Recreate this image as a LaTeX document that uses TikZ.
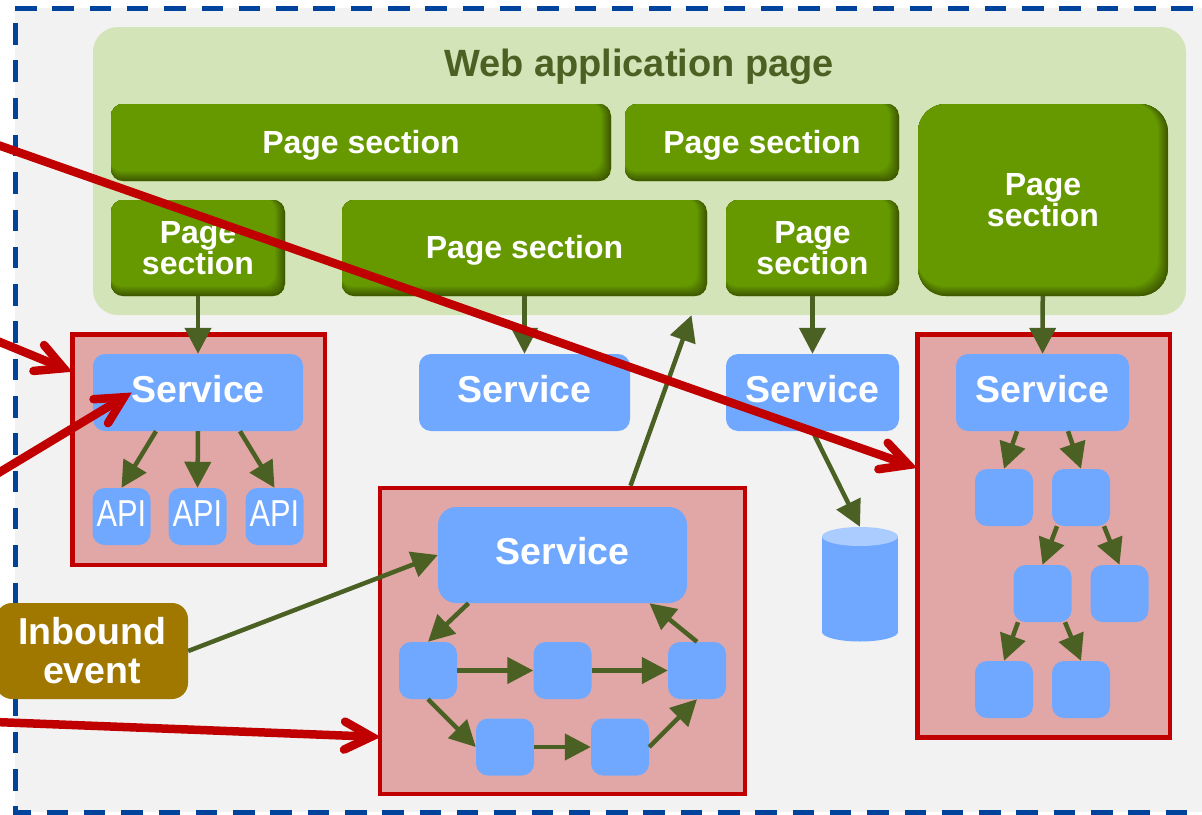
\documentclass[tikz,border=0pt]{standalone}
\usepackage{fontspec}
\setmainfont{Liberation Sans}
\usetikzlibrary{arrows.meta}
\definecolor{backgrey}{HTML}{F2F2F2}
\definecolor{dashblue}{HTML}{00439C}
\definecolor{panelgreen}{HTML}{D3E4B8}
\definecolor{pagegreen}{HTML}{669900}
\definecolor{pageshade}{HTML}{3F5A00}
\definecolor{boxblue}{HTML}{70A8FF}
\definecolor{lidblue}{HTML}{AACCFF}
\definecolor{boxred}{HTML}{C00000}
\definecolor{boxpink}{HTML}{E1A7A7}
\definecolor{arrowgreen}{HTML}{4B6124}
\definecolor{eventbrown}{HTML}{A07800}
\begin{document}
\begin{tikzpicture}[
    x=1pt,
    y=-1pt,
    block/.style={
      rectangle,
      align=center,
      inner sep=0pt,
      rounded corners=12pt,
      text=white,
      font=\bfseries\fontsize{32}{31.5}\selectfont
    },
    page/.style={
      block,
      fill=pagegreen,
      rounded corners=#1,
      path picture={
        \foreach \inset in {0,1,...,10} {
          \pgfmathtruncatemacro\mixval{\inset*10}
          \fill[pagegreen!\mixval!pageshade, rounded corners=#1] ([xshift=-1.5pt, yshift=1.5pt]path picture bounding box.north west) rectangle ([xshift=-\inset pt, yshift=\inset pt]path picture bounding box.south east);
        }
      }
    },
    page/.default=12pt,
    onerow/.style={
      text height=27.5pt,
      text depth=6pt
    },
    service/.style={
      block,
      fill=boxblue,
      text height=27pt,
      text depth=8pt,
      font=\bfseries\fontsize{37.5}{39}\selectfont
    },
    tiny/.style={
      block,
      fill=boxblue,
      minimum width=58,
      minimum height=57
    },
    api/.style={
      tiny,
      text height=27pt,
      text depth=6.6pt,
      font=\fontsize{37.5}{39}\selectfont
    },
    group/.style={
      rectangle,
      draw=boxred,
      fill=boxpink,
      line width=4.5pt,
      inner sep=0pt
    },
    flow/.style={
      draw=arrowgreen,
      line width=4.5pt,
      -{Triangle[length=26pt,width=26pt]}
    },
    call/.style={
      draw=boxred,
      line width=8.5pt,
      line cap=round,
      -{Straight Barb[length=27pt,width=28pt,line cap=round,line join=miter]}
    },
    border/.style={
      draw=dashblue,
      line width=5pt,
      dash pattern=on 21.5pt off 15.8pt
    },
]

\useasboundingbox (0,0) rectangle (1202,814);
\fill[backgrey] (15,8) rectangle (1202,812);
\draw[border] (15,8) -- (1210,8);
\draw[border] (15,23) -- (15,812) -- (1210,812);

% web page with its sections
\node[block, fill=panelgreen, rounded corners=25pt, minimum width=1093, minimum height=288] (panel) at (639.5,171) {};
\node[text=arrowgreen, font=\bfseries\fontsize{38}{39}\selectfont] (title) at (639,67) {Web application page};

\node[page, onerow, minimum width=500, minimum height=77] (pageA) at (361,142.5) {Page section};
\node[page, onerow, minimum width=274, minimum height=77] (pageB) at (762,142.5) {Page section};
\node[page, minimum width=174, minimum height=96] (pageC) at (198,248) {Page\\section};
\node[page, onerow, minimum width=365, minimum height=96] (pageD) at (524.5,248) {Page section};
\node[page, minimum width=173, minimum height=96] (pageE) at (812.5,248) {Page\\section};
\node[page=28pt, minimum width=250, minimum height=192] (pageF) at (1043,200) {Page\\section};

% the red groups
\node[group, minimum width=252.5, minimum height=230.5] (groupA) at (198.75,449.75) {};
\node[group, minimum width=365, minimum height=306] (groupB) at (562.5,641) {};
\node[group, minimum width=252.5, minimum height=403] (groupC) at (1043.75,536) {};

% services
\node[service, minimum width=210, minimum height=77] (svcA) at (198,392.5) {Service};
\node[service, minimum width=211, minimum height=77] (svcB) at (524.5,392.5) {Service};
\node[service, minimum width=173, minimum height=77] (svcC) at (812.5,392.5) {Service};
\node[service, minimum width=173, minimum height=77] (svcD) at (1042.5,392.5) {Service};
\node[service, rounded corners=18pt, minimum width=249, minimum height=96] (svcE) at (562.5,555) {Service};

% api row
\node[api] (apiA) at (121.5,516.5) {\scalebox{.82}[1]{API}};
\node[api] (apiB) at (197.5,516.5) {\scalebox{.82}[1]{API}};
\node[api] (apiC) at (274.5,516.5) {\scalebox{.82}[1]{API}};

% ring inside the middle group
\node[tiny] (ringA) at (428,670.5) {};
\node[tiny] (ringB) at (562.5,670.5) {};
\node[tiny] (ringC) at (697,670.5) {};
\node[tiny] (ringD) at (505,747) {};
\node[tiny] (ringE) at (620,747) {};

% tree inside the right group
\node[tiny] (treeA) at (1004,497.5) {};
\node[tiny] (treeB) at (1081,497.5) {};
\node[tiny] (treeC) at (1042.5,593.5) {};
\node[tiny] (treeD) at (1119.5,593.5) {};
\node[tiny] (treeE) at (1004,689.5) {};
\node[tiny] (treeF) at (1081,689.5) {};

% data store
\node[inner sep=0pt, minimum width=76, minimum height=114] (store) at (860,584) {};
\fill[boxblue] (822,537) rectangle (898,632);
\fill[boxblue] (860,632) ellipse [x radius=38pt, y radius=9.5pt];
\fill[lidblue] (860,536.5) ellipse [x radius=38pt, y radius=9.5pt];

\node[block, fill=eventbrown, rounded corners=16pt, minimum width=192, minimum height=96, text depth=2pt, font=\bfseries\fontsize{37.5}{39}\selectfont] (event) at (92,651) {Inbound\\event};

% green connectors
\draw[flow] (pageC) -- (svcA);
\draw[flow] (pageD) -- (svcB);
\draw[flow] (pageE) -- (svcC);
\draw[flow] (pageF) -- (svcD);
\draw[flow] ([xshift=-42pt]svcA.south) -- (apiA.north);
\draw[flow] (svcA.south) -- (apiB.north);
\draw[flow] ([xshift=42pt]svcA.south) -- (apiC.north);
\draw[flow] (svcC.south) -- (store.north);
\draw[flow] ([xshift=68pt]groupB.north) -- ([xshift=52pt]panel.south);
\draw[flow] (event.east) -- (svcE.west);
\draw[flow] ([xshift=-94pt]svcE.south) -- (ringA.north);
\draw[flow] (ringA) -- (ringB);
\draw[flow] (ringB) -- (ringC);
\draw[flow] (ringC.north) -- ([xshift=87pt]svcE.south);
\draw[flow] (ringA.south) -- (ringD.west);
\draw[flow] (ringD) -- (ringE);
\draw[flow] (ringE.east) -- (ringC.south);
\draw[flow] ([xshift=-25.5pt]svcD.south) -- (treeA.north);
\draw[flow] ([xshift=25.5pt]svcD.south) -- (treeB.north);
\draw[flow] ([xshift=-24pt]treeB.south) -- (treeC.north);
\draw[flow] ([xshift=23pt]treeB.south) -- (treeD.north);
\draw[flow] ([xshift=-24.5pt]treeC.south) -- (treeE.north);
\draw[flow] ([xshift=22.5pt]treeC.south) -- (treeF.north);

% red connectors coming in from outside
\coordinate (callA) at (-5,144);
\coordinate (callB) at (-5,340);
\coordinate (callC) at (-5,475);
\coordinate (callD) at (-5,722);
\draw[call] (callA) -- ([xshift=2pt,yshift=68pt]groupC.west);
\draw[call] (callB) -- ([xshift=2pt,yshift=78pt]groupA.west);
\draw[call] (callC) -- ([xshift=39pt]svcA.west);
\draw[call] (callD) -- ([xshift=3pt,yshift=-96pt]groupB.west);

\end{tikzpicture}
\end{document}
